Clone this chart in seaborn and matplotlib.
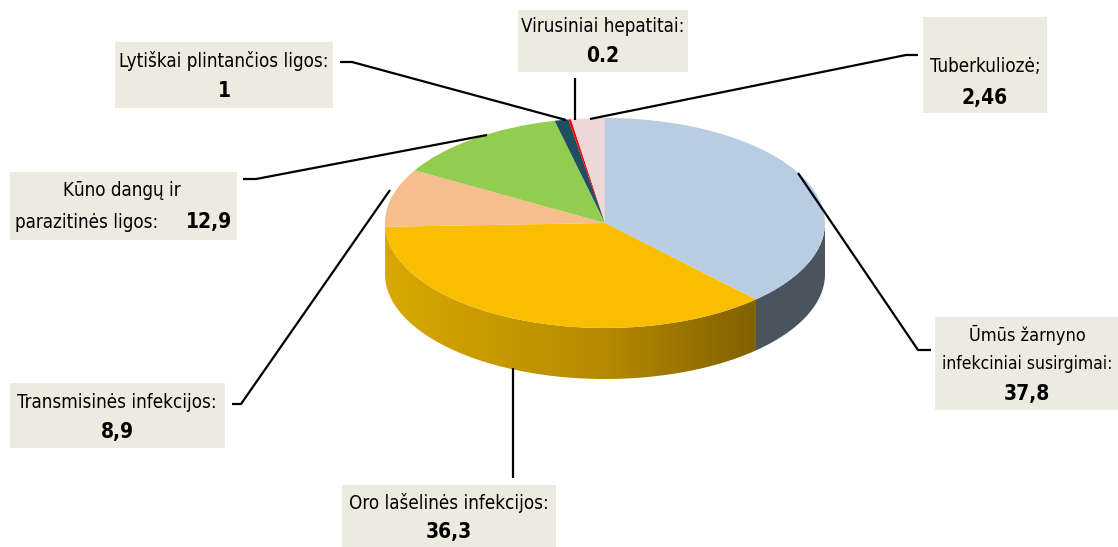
import numpy as np
import matplotlib
matplotlib.use("Agg")
import matplotlib.pyplot as plt
import seaborn as sns
from matplotlib.patches import Polygon, Rectangle
from matplotlib.transforms import Affine2D

# ---------------- data ----------------
categories = [
    "Ūmūs žarnyno\ninfekciniai susirgimai:",
    "Oro lašelinės infekcijos:",
    "Transmisinės infekcijos:",
    "Kūno dangų ir\nparazitinės ligos:",
    "Lytiškai plintančios ligos:",
    "Virusiniai hepatitai:",
    "Tuberkuliozė;",
]
values = [37.8, 36.3, 8.9, 12.9, 1, 0.2, 2.46]
value_labels = ["37,8", "36,3", "8,9", "12,9", "1", "0.2", "2,46"]
top_colors = ["#B8CCE2", "#F9BE00", "#F6BD8D", "#92CD50", "#1E4E5F", "#FF0000", "#EDD7D7"]
side_colors = ["#4B545E", None, "#B8875E", "#5E8A30", "#12303A", "#A00000", "#A89898"]

sns.set_theme(style="white")
plt.rcParams["font.family"] = ["DejaVu Sans"]
plt.rcParams["font.stretch"] = "condensed"
plt.rcParams["text.color"] = "black"

W, H = 1118, 547
fig = plt.figure(figsize=(W / 100, H / 100), dpi=100)
ax = fig.add_axes([0, 0, 1, 1])

# pie geometry (pixels)
CX, CY_PIX, RX, RY, DEPTH = 605, 223, 220, 105, 51
CY = H - CY_PIX
D = DEPTH / RY

wedges, _ = ax.pie(values, colors=top_colors, startangle=90, counterclock=False,
                   radius=1, center=(0, 0), wedgeprops=dict(linewidth=0))
ax.set_xlim(0, W)
ax.set_ylim(0, H)
ax.set_aspect("auto")
ax.axis("off")

tr = Affine2D().scale(RX, RY).translate(CX, CY) + ax.transData
for w in wedges:
    w.set_transform(tr)
    w.set_zorder(5)


def front_ranges(t1, t2):
    out = []
    for lo, hi in [(-180, 0), (180, 360), (-540, -360)]:
        a, b = max(t1, lo), min(t2, hi)
        if b > a:
            out.append((a, b))
    return out


# side faces
for i, w in enumerate(wedges):
    for a, b in front_ranges(w.theta1, w.theta2):
        t = np.radians(np.linspace(a, b, 120))
        upper = np.column_stack([np.cos(t), np.sin(t)])
        lower = np.column_stack([np.cos(t[::-1]), np.sin(t[::-1]) - D])
        pts = np.vstack([upper, lower])
        if side_colors[i] is None:
            poly = Polygon(pts, closed=True, facecolor="none", edgecolor="none",
                           transform=tr, zorder=2)
            ax.add_patch(poly)
            grad = np.linspace(0, 1, 256)[None, :]
            cmap = matplotlib.colors.LinearSegmentedColormap.from_list(
                "g", ["#D8A800", "#B58A00", "#6A4E00"])
            im = ax.imshow(grad, extent=(CX - RX, CX + RX, CY - RY - DEPTH - 5, CY + 5),
                           cmap=cmap, aspect="auto", zorder=2, interpolation="bilinear")
            im.set_clip_path(poly)
        else:
            ax.add_patch(Polygon(pts, closed=True, facecolor=side_colors[i],
                                 edgecolor="none", transform=tr, zorder=2))

ax.set_xlim(0, W)
ax.set_ylim(0, H)

BOX = "#EDEBE0"


def Y(p):
    return H - p


def box(x0, y0, x1, y1):
    ax.add_patch(Rectangle((x0, Y(y1)), x1 - x0, y1 - y0, facecolor=BOX,
                           edgecolor="none", zorder=3))


def leader(pts):
    xs = [p[0] for p in pts]
    ys = [Y(p[1]) for p in pts]
    ax.plot(xs, ys, color="black", lw=1.6, zorder=6, solid_capstyle="butt")


def label(x, y, s, fs=13.5, bold=False, ha="center"):
    ax.text(x, Y(y), s, ha=ha, va="center", fontsize=fs,
            fontweight="bold" if bold else "normal", fontstretch="condensed",
            color="black", zorder=7)


FSV = 15
# 0 Ūmūs
box(935, 317, 1118, 410)
l1, l2 = categories[0].split("\n")
label(1027, 335, l1, fs=13)
label(1027, 364, l2, fs=12.5)
label(1027, 394, value_labels[0], fs=FSV, bold=True)
leader([(931, 350), (918, 350), (798, 173)])

# 1 Oro
box(342, 485, 556, 547)
label(449, 503, categories[1])
label(449, 532, value_labels[1], fs=FSV, bold=True)
leader([(513, 478), (513, 368)])

# 2 Transmisinės
box(10, 383, 225, 448)
label(117, 403, categories[2])
label(117, 432, value_labels[2], fs=FSV, bold=True)
leader([(232, 404), (241, 404), (390, 190)])

# 3 Kūno
box(10, 172, 237, 240)
l1, l2 = categories[3].split("\n")
label(122, 190, l1)
label(15, 222, l2, ha="left")
label(232, 222, value_labels[3], fs=FSV, bold=True, ha="right")
leader([(243, 179), (256, 179), (487, 135)])

# 4 Lytiškai
box(115, 42, 333, 108)
label(224, 61, categories[4])
label(224, 91, value_labels[4], fs=FSV, bold=True)
leader([(340, 62), (352, 62), (566, 120)])

# 5 Virusiniai
box(518, 10, 688, 72)
label(603, 27, categories[5])
label(603, 56, value_labels[5], fs=FSV, bold=True)
leader([(575, 78), (575, 120)])

# 6 Tuberkuliozė
box(923, 17, 1047, 113)
label(985, 67, categories[6])
label(985, 98, value_labels[6], fs=FSV, bold=True)
leader([(918, 55), (906, 55), (590, 119)])

fig.savefig("out.png", dpi=100, facecolor="white")
